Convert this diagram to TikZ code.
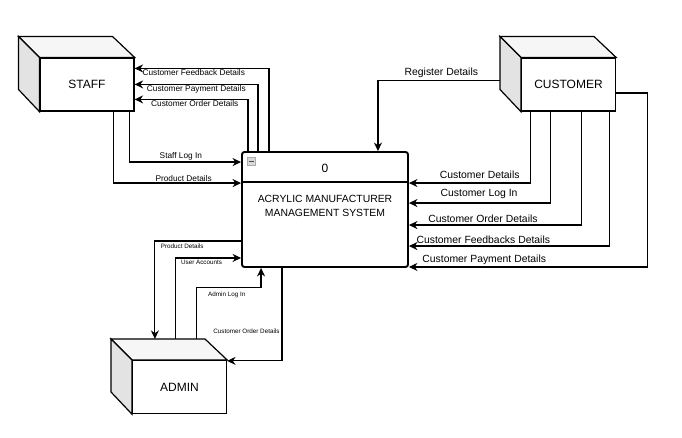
\documentclass[tikz,border=0pt]{standalone}
\usepackage{fontspec}
\setmainfont{Liberation Sans}
\usetikzlibrary{arrows.meta,positioning,calc}

\begin{document}
\begin{tikzpicture}[
  x=1pt, y=-1pt,
  entity/.style={draw, line width=1.2pt, fill=white, minimum width=94pt, minimum height=53pt, inner sep=0pt, font=\fontsize{12}{14}\selectfont},
  topface/.style={draw, line width=1.2pt, fill=gray!7},
  sideface/.style={draw, line width=1.2pt, fill=gray!22},
  process/.style={draw, line width=1.9pt, rounded corners=2.5pt, minimum width=166pt, minimum height=115pt, inner sep=0pt},
  flow/.style={-{Stealth[length=8.5pt,width=8pt]}, line width=1.15pt},
  lbl/.style={font=\fontsize{8.3}{10}\selectfont, inner sep=1pt},
  clbl/.style={font=\fontsize{10.4}{12}\selectfont, inner sep=2pt},
  albl/.style={font=\fontsize{6.3}{8}\selectfont, inner sep=2pt}
]
\useasboundingbox (0,0) rectangle (682,437);

% external entities
\node[entity] (staff) at (87,84.5) {STAFF};
\node[entity] (customer) at (568.5,84.5) {CUSTOMER};
\node[entity] (admin) at (179.5,387) {ADMIN};
\foreach \e in {staff,customer,admin} {
  \draw[topface] (\e.north west) -- ++(-21,-21) -- ++(94,0) -- (\e.north east) -- cycle;
  \draw[sideface] (\e.north west) -- ++(-21,-21) -- ++(0,53) -- (\e.south west) -- cycle;
}

% process
\node[process] (sys) at (325,209.5) {};
\draw[line width=1.9pt] ([shift={(0,31)}]sys.north west) -- ([shift={(0,31)}]sys.north east);
\node[draw=gray!65, fill=gray!30, minimum size=8pt, inner sep=0pt] (toggle) at (251.5,161) {};
\draw[gray!60!black, line width=1pt] ([shift={(2,0)}]toggle.west) -- ([shift={(-2,0)}]toggle.east);
\node[font=\fontsize{12}{14}\selectfont] (num) at (325,168) {0};
\node[font=\fontsize{10.4}{14}\selectfont, align=center] (name) at (325,206) {ACRYLIC MANUFACTURER\\MANAGEMENT SYSTEM};

% staff flows
\draw[flow] ([shift={(28,0)}]sys.north west) |- node[lbl, below, pos=0.78] {Customer Feedback Details} ([shift={(0,11)}]staff.north east);
\draw[flow] ([shift={(17,0)}]sys.north west) |- node[lbl, below, pos=0.75] {Customer Payment Details} ([shift={(0,27)}]staff.north east);
\draw[flow] ([shift={(7,0)}]sys.north west) |- node[lbl, below, pos=0.735] {Customer Order Details} ([shift={(0,42)}]staff.north east);
\draw[flow] ([shift={(-5,0)}]staff.south east) |- node[lbl, above, pos=0.73] {Staff Log In} ([shift={(0,11)}]sys.north west);
\draw[flow] ([shift={(-21,0)}]staff.south east) |- node[lbl, above, pos=0.775] {Product Details} ([shift={(0,32)}]sys.north west);

% customer flows
\draw[flow] ([shift={(-21,-4)}]customer.west) -| node[clbl, above, pos=0.24] {Register Details} ([shift={(-31,0)}]sys.north east);
\draw[flow] ([shift={(10,0)}]customer.south west) |- node[clbl, above=2pt, pos=0.71] {Customer Details} ([shift={(0,32)}]sys.north east);
\draw[flow] ([shift={(30,0)}]customer.south west) |- node[clbl, above=2pt, pos=0.753] {Customer Log In} ([shift={(0,52)}]sys.north east);
\draw[flow] ([shift={(61,0)}]customer.south west) |- node[clbl, above, pos=0.786] {Customer Order Details} ([shift={(0,74)}]sys.north east);
\draw[flow] ([shift={(89,0)}]customer.south west) |- node[clbl, above, pos=0.815] {Customer Feedbacks Details} ([shift={(0,95)}]sys.north east);
\draw[flow] ([shift={(0,8.5)}]customer.east) -- ++(31,0) |- node[clbl, above, pos=0.842] {Customer Payment Details} ([shift={(0,-1)}]sys.south east);

% admin flows
\draw[flow] ([shift={(0,-27)}]sys.south west) -| node[albl, anchor=north west, pos=0.48] {Product Details} ([shift={(23,-21)}]admin.north west);
\draw[flow] ([shift={(44,-21)}]admin.north west) |- node[albl, anchor=north west, pos=0.52] {User Accounts} ([shift={(0,-10)}]sys.south west);
\draw[flow] ([shift={(65,-21)}]admin.north west) -- ++(0,-51) -| node[albl, anchor=north west, pos=0.06, inner sep=3pt] {Admin Log In} ([shift={(20,0)}]sys.south west);
\draw[flow] ([shift={(41,0)}]sys.south west) |- node[albl, anchor=east, pos=0.34] {Customer Order Details} ([shift={(0,1)}]admin.north east);

\end{tikzpicture}
\end{document}
